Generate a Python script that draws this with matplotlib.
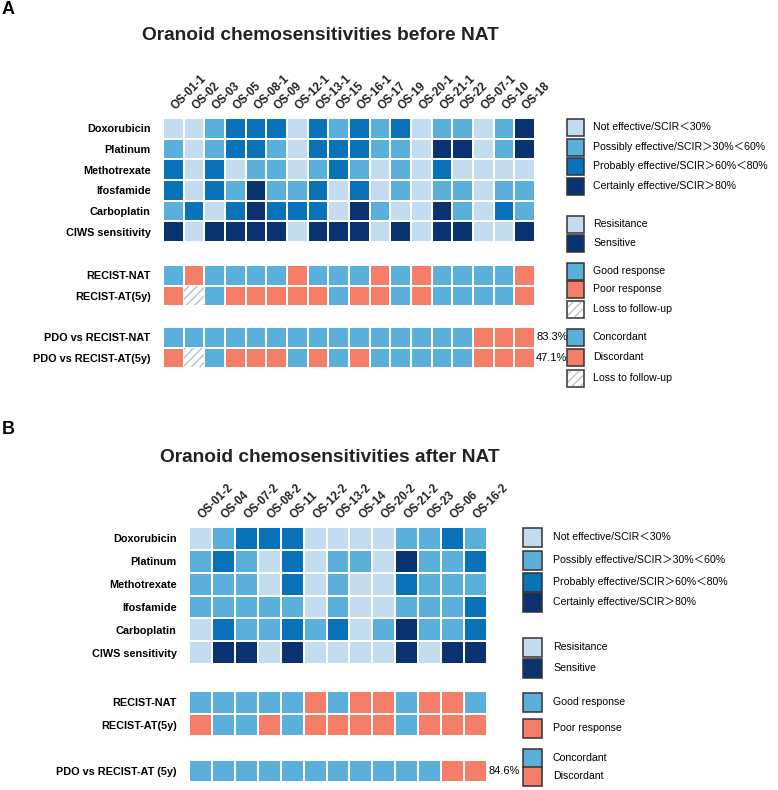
import matplotlib.pyplot as plt
import numpy as np
from matplotlib.colors import ListedColormap
from matplotlib.patches import Rectangle

plt.rcParams['font.family'] = ['Liberation Sans', 'Noto Sans CJK SC', 'DejaVu Sans']

W, H = 778, 790

# ---- data -----------------------------------------------------------
drugs = ["Doxorubicin", "Platinum", "Methotrexate", "Ifosfamide",
         "Carboplatin", "CIWS sensitivity"]

samples_a = ["OS-01-1", "OS-02", "OS-03", "OS-05", "OS-08-1", "OS-09",
             "OS-12-1", "OS-13-1", "OS-15", "OS-16-1", "OS-17", "OS-19",
             "OS-20-1", "OS-21-1", "OS-22", "OS-07-1", "OS-10", "OS-18"]
# 1 not effective .. 4 certainly effective (CIWS: 1 resistance, 4 sensitive)
sens_a = [
    [1, 1, 2, 3, 3, 3, 1, 3, 2, 3, 2, 3, 1, 2, 2, 1, 2, 4],
    [2, 1, 2, 3, 3, 2, 1, 3, 3, 3, 2, 2, 1, 4, 4, 1, 2, 4],
    [3, 1, 3, 1, 2, 2, 1, 2, 3, 2, 1, 2, 1, 3, 1, 1, 1, 1],
    [3, 1, 3, 2, 4, 2, 2, 3, 1, 3, 1, 2, 1, 2, 2, 1, 2, 2],
    [2, 3, 1, 3, 4, 3, 3, 3, 1, 4, 2, 1, 1, 4, 2, 1, 3, 2],
    [4, 1, 4, 4, 4, 4, 1, 4, 4, 4, 1, 4, 1, 4, 4, 1, 1, 4],
]
recist_rows_a = ["RECIST-NAT", "RECIST-AT(5y)"]
recist_a = ["GPGGGGPGGGPGPGGGGP",
            "PLGPPPPPGPPGPGGGGP"]
pdo_rows_a = ["PDO vs RECIST-NAT", "PDO vs RECIST-AT(5y)"]
pdo_a = ["CCCCCCCCCCCCCCCDDD",
         "DLCDDDCDCDCCCCCDDD"]
pct_a = ["83.3%", "47.1%"]

samples_b = ["OS-01-2", "OS-04", "OS-07-2", "OS-08-2", "OS-11", "OS-12-2",
             "OS-13-2", "OS-14", "OS-20-2", "OS-21-2", "OS-23", "OS-06",
             "OS-16-2"]
sens_b = [
    [1, 2, 3, 3, 3, 1, 1, 1, 1, 2, 2, 3, 2],
    [2, 3, 2, 1, 3, 1, 2, 2, 1, 4, 2, 2, 3],
    [2, 2, 2, 1, 3, 1, 2, 1, 1, 3, 2, 2, 2],
    [2, 2, 2, 2, 2, 1, 2, 1, 1, 2, 2, 2, 3],
    [1, 3, 2, 2, 3, 2, 3, 1, 2, 4, 2, 2, 3],
    [1, 4, 4, 1, 4, 1, 1, 1, 1, 4, 1, 4, 4],
]
recist_rows_b = ["RECIST-NAT", "RECIST-AT(5y)"]
recist_b = ["GGGGGPGPPGPPG",
            "PGGPGPPPPGPPP"]
pdo_rows_b = ["PDO vs RECIST-AT (5y)"]
pdo_b = ["CCCCCCCCCCCDD"]
pct_b = ["84.6%"]

# ---- styles ---------------------------------------------------------
blues = ['#c3dcf0', '#5ab0da', '#0a72b9', '#0b3270']
good, poor = '#5ab0da', '#f47e67'
FS = 7.8


def frac(x0, y0, x1, y1):
    return [x0 / W, 1 - y1 / H, (x1 - x0) / W, (y1 - y0) / H]


def block(rect, rows, colors, labels, cols=None, pct=None):
    ax = fig.add_axes(frac(*rect))
    vals = np.array(rows)
    nr, nc = vals.shape
    cmap = ListedColormap(colors)
    ax.pcolormesh(np.arange(nc + 1), np.arange(nr + 1), vals, cmap=cmap,
                  vmin=-0.5, vmax=len(colors) - 0.5,
                  edgecolors='white', linewidth=1.2)
    ax.set_xlim(0, nc)
    ax.set_ylim(nr, 0)
    for s in ax.spines.values():
        s.set_visible(False)
    ax.set_yticks(np.arange(nr) + 0.5)
    ax.set_yticklabels(labels, fontsize=FS, fontweight='bold')
    ax.tick_params(length=0, pad=9)
    if cols is not None:
        ax.xaxis.tick_top()
        ax.set_xticks(np.arange(nc) + 0.5)
        ax.set_xticklabels(cols, rotation=45, ha='left', va='center',
                           rotation_mode='anchor', fontsize=8.3,
                           fontweight='bold', color='#222222')
        ax.tick_params(axis='x', length=0, pad=7)
    else:
        ax.set_xticks([])
    if pct is not None:
        for i, p in enumerate(pct):
            ax.text(nc + 0.05, i + 0.5, p, ha='left', va='center', fontsize=8)
    return ax


def code_block(rect, rows, labels, pct=None):
    keys = ['G', 'P', 'L']
    m = [[keys.index({'C': 'G', 'D': 'P'}.get(c, c)) for c in r] for r in rows]
    ax = block(rect, m, [good, poor, 'white'], labels, pct=pct)
    for i, r in enumerate(rows):
        for j, c in enumerate(r):
            if c == 'L':
                ax.add_patch(Rectangle((j + 0.04, i + 0.04), 0.92, 0.92,
                                       facecolor='white', edgecolor='#b4c0d0',
                                       hatch='////', linewidth=0))
    return ax


def legend(lg, xb, xt, bw, bh, items):
    for y, col, lab, hatch in items:
        lg.add_patch(Rectangle((xb, y - bh / 2), bw, bh, facecolor=col,
                               edgecolor='#333333', linewidth=1.1))
        if hatch:
            lg.add_patch(Rectangle((xb + 1, y - bh / 2 + 1), bw - 2, bh - 2,
                                   facecolor='none', edgecolor='#bcc4d0',
                                   linewidth=0, hatch='////'))
        lg.text(xt, y, lab, ha='left', va='center', fontsize=7.6)


fig = plt.figure(figsize=(W / 100, H / 100), dpi=100)

# ---- panel A --------------------------------------------------------
block((163, 118, 535, 242), [[v - 1 for v in r] for r in sens_a], blues,
      drugs, cols=samples_a)
code_block((163, 265, 535, 306), recist_a, recist_rows_a)
code_block((163, 327, 535, 368), pdo_a, pdo_rows_a, pct=pct_a)

# ---- panel B --------------------------------------------------------
block((189, 527, 487, 664), [[v - 1 for v in r] for r in sens_b], blues,
      drugs, cols=samples_b)
code_block((189, 691, 487, 736), recist_b, recist_rows_b)
code_block((189, 760, 487, 782), pdo_b, pdo_rows_b, pct=pct_b)

# ---- titles / legends ----------------------------------------------
lg = fig.add_axes([0, 0, 1, 1])
lg.set_xlim(0, W)
lg.set_ylim(H, 0)
lg.axis('off')

lg.text(2, 9, "A", fontsize=13, fontweight='bold', va='center')
lg.text(2, 430, "B", fontsize=13, fontweight='bold', va='center')
lg.text(320, 35, "Oranoid chemosensitivities before NAT", fontsize=13.8,
        fontweight='bold', ha='center', va='center', color='#222222')
lg.text(330, 457, "Oranoid chemosensitivities after NAT", fontsize=13.8,
        fontweight='bold', ha='center', va='center', color='#222222')

eff_labels = ["Not effective/SCIR＜30%", "Possibly effective/SCIR＞30%＜60%",
              "Probably effective/SCIR＞60%＜80%", "Certainly effective/SCIR＞80%"]

legend(lg, 567, 593, 17, 17, [
    (127, blues[0], eff_labels[0], False),
    (147, blues[1], eff_labels[1], False),
    (166, blues[2], eff_labels[2], False),
    (186, blues[3], eff_labels[3], False),
    (224, blues[0], "Resisitance", False),
    (243, blues[3], "Sensitive", False),
    (271, good, "Good response", False),
    (289, poor, "Poor response", False),
    (309, 'white', "Loss to follow-up", True),
    (337, good, "Concordant", False),
    (357, poor, "Discordant", False),
    (378, 'white', "Loss to follow-up", True),
])

legend(lg, 523, 553, 19, 19, [
    (537, blues[0], eff_labels[0], False),
    (560, blues[1], eff_labels[1], False),
    (582, blues[2], eff_labels[2], False),
    (602, blues[3], eff_labels[3], False),
    (647, blues[0], "Resisitance", False),
    (668, blues[3], "Sensitive", False),
    (702, good, "Good response", False),
    (728, poor, "Poor response", False),
    (758, good, "Concordant", False),
    (776, poor, "Discordant", False),
])

fig.savefig("out.png", dpi=100)
